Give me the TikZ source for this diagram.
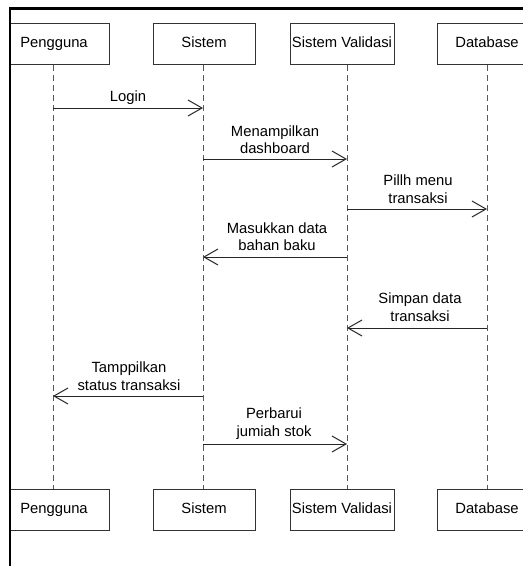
\documentclass[tikz,border=0pt]{standalone}
\usepackage{fontspec}
\setmainfont{Liberation Sans}
\usetikzlibrary{arrows.meta}
\begin{document}
\begin{tikzpicture}[x=1pt,y=-1pt,
  actor/.style={draw=black!80,line width=0.9pt,minimum height=41pt,inner sep=0pt,
    text height=10.5pt,text depth=3pt,
    font=\fontsize{14.8}{17}\selectfont},
  lifeline/.style={draw=black!65,line width=0.9pt,dash pattern=on 6pt off 4pt},
  msg/.style={draw=black!85,line width=1pt,-{Straight Barb[length=14pt,width=16pt,line width=1pt]}},
  msgtext/.style={align=center,inner sep=0pt,font=\fontsize{14.8}{17.5}\selectfont}]
  \useasboundingbox (0,0) rectangle (523,566);
  \fill[white] (0,0) rectangle (523,566);
  \begin{scope}
    \clip (10,8) rectangle (523,566);
    % participants, top row
    \node[actor,minimum width=110pt] (p1) at (54,43.5) {Pengguna};
    \node[actor,minimum width=102pt] (s1) at (204,43.5) {Sistem};
    \node[actor,minimum width=104pt] (v1) at (342,43.5) {Sistem Validasi};
    \node[actor,minimum width=100pt] (d1) at (487,43.5) {Database};
    % participants, bottom row
    \node[actor,minimum width=110pt] (p2) at (54,510) {Pengguna};
    \node[actor,minimum width=102pt] (s2) at (204,510) {Sistem};
    \node[actor,minimum width=104pt] (v2) at (342,510) {Sistem Validasi};
    \node[actor,minimum width=100pt] (d2) at (487,510) {Database};
  \end{scope}
  % lifelines
  \coordinate (pt) at (53,65);   \coordinate (pb) at (53,489);
  \coordinate (st) at (203,65);  \coordinate (sb) at (203,489);
  \coordinate (vt) at (347,65);  \coordinate (vb) at (347,489);
  \coordinate (dt) at (487,65);  \coordinate (db) at (487,489);
  \draw[lifeline] (pt) -- (pb);
  \draw[lifeline] (st) -- (sb);
  \draw[lifeline] (vt) -- (vb);
  \draw[lifeline] (dt) -- (db);
  % messages
  \coordinate (m1a) at (53,108);  \coordinate (m1b) at (203,108);
  \draw[msg] (m1a) -- (m1b);
  \node[msgtext] (t1) at (128,98) {Login};
  \coordinate (m2a) at (203,159); \coordinate (m2b) at (347,159);
  \draw[msg] (m2a) -- (m2b);
  \node[msgtext] (t2) at (275,139.5) {Menampilkan\\dashboard};
  \coordinate (m3a) at (347,209); \coordinate (m3b) at (487,209);
  \draw[msg] (m3a) -- (m3b);
  \node[msgtext] (t3) at (418,189) {Pillh menu\\transaksi};
  \coordinate (m4a) at (347,257); \coordinate (m4b) at (203,257);
  \draw[msg] (m4a) -- (m4b);
  \node[msgtext] (t4) at (277,236.5) {Masukkan data\\bahan baku};
  \coordinate (m5a) at (487,328); \coordinate (m5b) at (347,328);
  \draw[msg] (m5a) -- (m5b);
  \node[msgtext] (t5) at (420,307) {Simpan data\\transaksi};
  \coordinate (m6a) at (203,396); \coordinate (m6b) at (53,396);
  \draw[msg] (m6a) -- (m6b);
  \node[msgtext] (t6) at (129,376) {Tamppilkan\\status transaksi};
  \coordinate (m7a) at (203,444); \coordinate (m7b) at (347,444);
  \draw[msg] (m7a) -- (m7b);
  \node[msgtext] (t7) at (274,423.5) {Perbarui\\jumiah stok};
  % outer frame
  \draw[line width=2.6pt,line cap=rect] (10,566) -- (10,8.5) -- (523,8.5);
\end{tikzpicture}
\end{document}
